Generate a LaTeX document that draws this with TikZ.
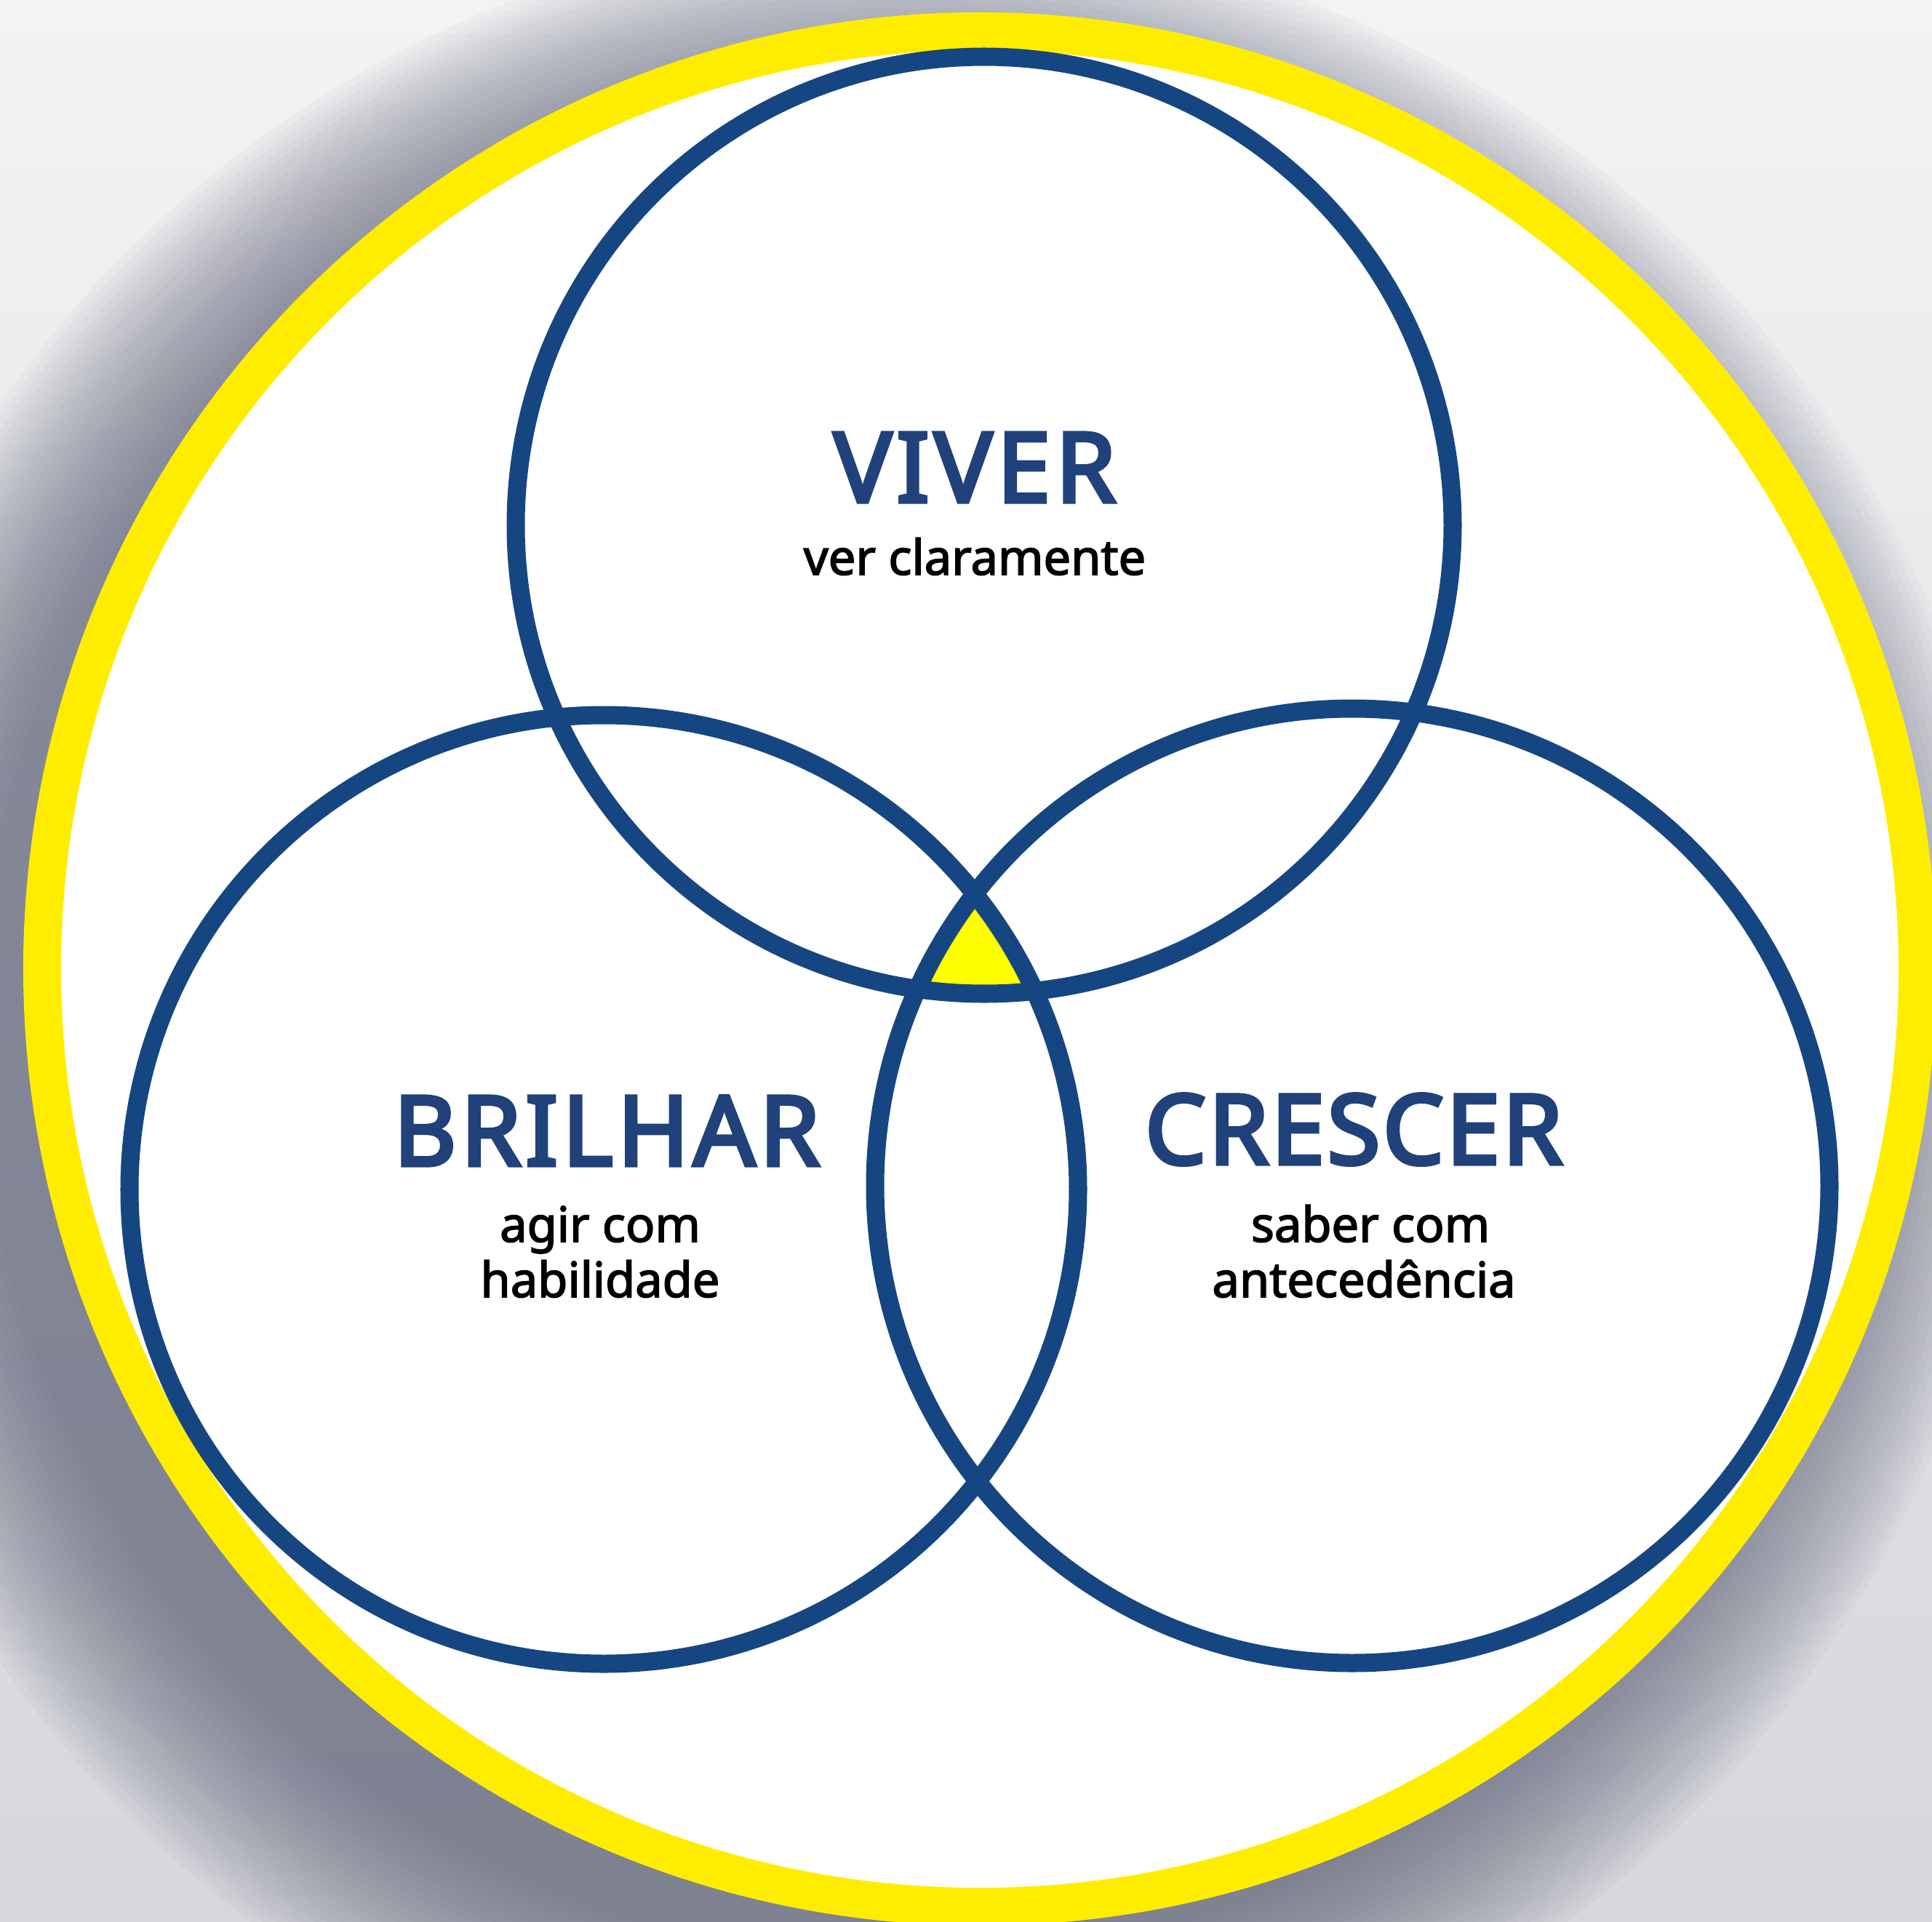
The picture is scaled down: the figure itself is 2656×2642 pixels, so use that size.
\documentclass[tikz,border=0pt]{standalone}
\usepackage{fontspec}
\setmainfont{Noto Sans}
\newfontfamily\titlefont{Noto Sans}[FakeBold=4]
\newfontfamily\subfont{Noto Sans}[FakeBold=2.4]
\definecolor{bgtop}{HTML}{F3F3F4}
\definecolor{bgbot}{HTML}{D6D7DB}
\definecolor{shadowc}{HTML}{5E6278}
\definecolor{ringy}{HTML}{FFED00}
\definecolor{coreY}{HTML}{FFFF00}
\definecolor{vblue}{HTML}{164682}
\definecolor{tblue}{HTML}{20417A}
\tikzset{
  venn/.style={draw=vblue, line width=0.25cm},
  title/.style={anchor=base, inner sep=0pt, text=tblue, font=\titlefont\fontsize{37.8}{40}\selectfont},
  sub/.style={anchor=base, inner sep=0pt, text=black, font=\subfont\fontsize{19}{21}\selectfont},
}
\begin{document}
\begin{tikzpicture}[x=0.01cm,y=0.01cm]
\useasboundingbox (0,0) rectangle (2656,-2642);
\begin{scope}
\clip (0,0) rectangle (2656,-2642);
% background
\shade[top color=bgtop, bottom color=bgbot] (0,0) rectangle (2656,-2642);
% blurred shadow of the big disc
\foreach \i in {0,...,24} {
  \fill[shadowc, opacity=0.042] (1250,-1420) circle [radius=1520-10*\i];
}
% big disc with yellow ring
\coordinate (ringc) at (1347,-1332);
\fill[white] (ringc) circle [radius=1289];
\draw[ringy, line width=0.52cm] (ringc) circle [radius=1289];
% circle centres
\coordinate (cV) at (1353,-722);
\coordinate (cB) at (830,-1635);
\coordinate (cC) at (1859,-1630);
% central yellow region
\begin{scope}
\clip (cV) circle [radius=644];
\clip (cB) circle [radius=652];
\fill[coreY] (cC) circle [radius=656];
\end{scope}
% venn circles
\draw[venn] (cV) circle [radius=644];
\draw[venn] (cB) circle [radius=652];
\draw[venn] (cC) circle [radius=656];
\end{scope}
% texts
\node[title] (tV) at (1340,-690) {\addfontfeature{LetterSpace=5}VIVER};
\node[sub] (sV) at (1340,-790) {ver claramente};
\node[title] (tB) at (834,-1602) {\addfontfeature{LetterSpace=4.5}BRILHAR};
\node[sub] (sB1) at (825,-1707) {agir com};
\node[sub] (sB2) at (825,-1783) {habilidade};
\node[title] (tC) at (1861,-1600) {\addfontfeature{LetterSpace=2.5}CRESCER};
\node[sub] (sC1) at (1884,-1707) {saber com};
\node[sub] (sC2) at (1875,-1783) {antecedência};
\end{tikzpicture}
\end{document}
